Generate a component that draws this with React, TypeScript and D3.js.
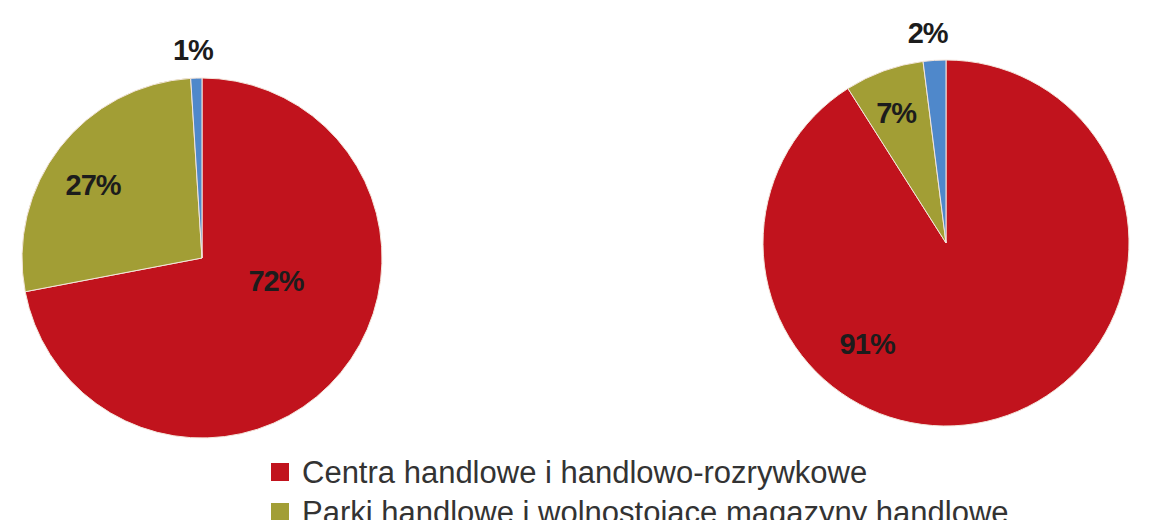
import { useMemo } from "react";

import * as d3 from "d3";

const categories = [
  "Centra handlowe i handlowo-rozrywkowe",
  "Parki handlowe i wolnostojące magazyny handlowe",
  "Inne",
];
const leftValues = [72, 27, 1];
const rightValues = [91, 7, 2];
const colors = ["#c1131d", "#a29e35", "#4f88cb"];

// where Excel dropped each label: [angle in degrees from top, radius as share of r]
const leftLabelAt = [
  [107, 0.43],
  [304, 0.73],
  [357.5, 1.155],
];
const rightLabelAt = [
  [218, 0.7],
  [339, 0.76],
  [355, 1.15],
];

const font = "'Liberation Sans', Arial, sans-serif";

function Pie({
  values,
  labelAt,
  cx,
  cy,
  r,
}: {
  values: number[];
  labelAt: number[][];
  cx: number;
  cy: number;
  r: number;
}) {
  const slices = useMemo(
    () =>
      d3
        .pie<number>()
        .sort(null)
        .value((d) => d)(values),
    [values]
  );
  const arc = d3.arc<d3.PieArcDatum<number>>().innerRadius(0).outerRadius(r);

  return (
    <g transform={`translate(${cx},${cy})`}>
      {slices.map((s, i) => (
        <path
          key={i}
          d={arc(s) ?? ""}
          fill={colors[i]}
          stroke="#f4e6dc"
          strokeWidth={1}
        />
      ))}
      {slices.map((s, i) => {
        const a = (labelAt[i][0] * Math.PI) / 180;
        const rho = labelAt[i][1] * r;
        return (
          <text
            key={i}
            x={rho * Math.sin(a)}
            y={-rho * Math.cos(a)}
            textAnchor="middle"
            dominantBaseline="central"
            fontFamily={font}
            fontWeight="bold"
            fontSize={29}
            letterSpacing={-1}
            fill="#1c1c1c"
          >
            {s.data}%
          </text>
        );
      })}
    </g>
  );
}

export default function App() {
  const width = 1170;
  const height = 520;

  const legendY = d3
    .scaleLinear()
    .domain([0, 1])
    .range([472, 512]);

  return (
    <svg
      width={width}
      height={height}
      style={{ position: "absolute", top: 0, left: 0, background: "#fff" }}
    >
      <Pie values={leftValues} labelAt={leftLabelAt} cx={202} cy={258} r={180} />
      <Pie values={rightValues} labelAt={rightLabelAt} cx={946} cy={243} r={183} />
      <g>
        {categories.map((c, i) => (
          <g key={i} transform={`translate(271,${legendY(i)})`}>
            <rect x={0} y={-9} width={18} height={18} fill={colors[i]} />
            <text
              x={31}
              y={11}
              fontFamily={font}
              fontSize={31}
              fill="#333"
            >
              {c}
            </text>
          </g>
        ))}
      </g>
    </svg>
  );
}
